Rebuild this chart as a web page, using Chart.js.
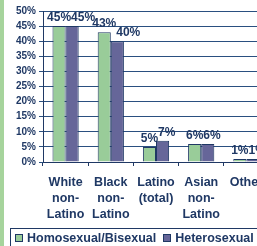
<!DOCTYPE html>
<html>
<head>
<meta charset="utf-8">
<script src="https://cdn.jsdelivr.net/npm/chart.js@4/dist/chart.umd.min.js"></script>
<style>
  html, body { margin: 0; padding: 0; }
  body { width: 257px; height: 246px; overflow: hidden; position: relative; background: #fff; }
  .strip { position: absolute; left: 0; top: 0; width: 4px; height: 246px; background: #a6d49c; }
  .wrap { position: absolute; left: 0; top: 0; width: 272px; height: 246px; }
  .legend {
    position: absolute; left: 10px; top: 228px; height: 22px; width: 270px;
    border: 1px solid #1f3864; box-sizing: border-box;
    font: bold 12.5px "Liberation Sans", Arial, sans-serif;
    color: #1f3864; white-space: nowrap; padding: 2px 0 0 4px; line-height: 15px;
  }
  .legend i { display: inline-block; width: 6px; height: 6px; border: 1px solid #1f3864; margin-right: 4px; vertical-align: 0px; }
  .legend i + span { margin-right: 7px; }
</style>
</head>
<body>
<div class="strip"></div>
<div class="wrap"><canvas id="c" width="272" height="246"></canvas></div>
<div class="legend" id="legend"></div>
<script>
// ----- data -----
const categories = [['White', 'non-', 'Latino'], ['Black', 'non-', 'Latino'], ['Latino', '(total)'], ['Asian', 'non-', 'Latino'], ['Other']]
const seriesNames = ['Homosexual/Bisexual', 'Heterosexual']
const gayBi = [45, 43, 5, 6, 1]
const hetero = [45, 40, 7, 6, 1]
const yTicks = [0, 5, 10, 15, 20, 25, 30, 35, 40, 45, 50]

const navy = '#1f3864'
const gridNavy = '#2a4f80'
const colors = ['#99cc99', '#666699']
const fontFam = '"Liberation Sans", Arial, sans-serif'

// legend as plain html (boxed, cut at the right like the original)
document.getElementById('legend').innerHTML = seriesNames
  .map((n, i) => `<i style="background:${colors[i]}"></i><span>${n}</span>`)
  .join('')

// value labels above bars, pushed right when they would overlap
const valueLabels = {
  id: 'valueLabels',
  afterDatasetsDraw(chart) {
    const ctx = chart.ctx
    ctx.save()
    ctx.font = `bold 12px ${fontFam}`
    ctx.fillStyle = navy
    ctx.textBaseline = 'alphabetic'
    ctx.textAlign = 'left'
    const m0 = chart.getDatasetMeta(0)
    const m1 = chart.getDatasetMeta(1)
    m0.data.forEach((bar, i) => {
      const t0 = gayBi[i] + '%'
      const w0 = ctx.measureText(t0).width
      const left0 = bar.x - w0 / 2
      ctx.fillText(t0, left0, bar.y - 5)

      const b1 = m1.data[i]
      const t1 = hetero[i] + '%'
      const w1 = ctx.measureText(t1).width
      const left1 = Math.max(b1.x - w1 / 2, left0 + w0)
      ctx.fillText(t1, left1, b1.y - 5)
    })
    ctx.restore()
  },
}

new Chart(document.getElementById('c'), {
  type: 'bar',
  data: {
    labels: categories,
    datasets: [
      { label: seriesNames[0], data: gayBi, backgroundColor: colors[0], borderColor: navy, borderWidth: 1,
        categoryPercentage: 0.58, barPercentage: 1 },
      { label: seriesNames[1], data: hetero, backgroundColor: colors[1], borderColor: navy, borderWidth: 1,
        categoryPercentage: 0.58, barPercentage: 1 },
    ],
  },
  options: {
    responsive: false,
    animation: false,
    layout: { padding: { top: 11, right: 3, left: 0, bottom: 0 } },
    plugins: { legend: { display: false }, tooltip: { enabled: false } },
    scales: {
      x: {
        grid: { offset: true, drawOnChartArea: false, drawTicks: true, tickLength: 4, color: navy },
        border: { color: navy, width: 1 },
        ticks: { color: navy, font: { family: fontFam, size: 12.5, weight: 'bold', lineHeight: 1.3 }, padding: 8, maxRotation: 0, autoSkip: false },
        afterFit(scale) { scale.height = 84 },
      },
      y: {
        min: 0, max: 50,
        afterBuildTicks(scale) { scale.ticks = yTicks.map(v => ({ value: v })) },
        grid: { color: gridNavy, tickLength: 4, lineWidth: 1 },
        border: { color: navy, width: 1 },
        ticks: { color: navy, font: { family: fontFam, size: 10, weight: 'bold' }, padding: 3, callback: v => v + '%' },
        afterFit(scale) { scale.width = 43 },
      },
    },
  },
  plugins: [valueLabels],
})
</script>
</body>
</html>
